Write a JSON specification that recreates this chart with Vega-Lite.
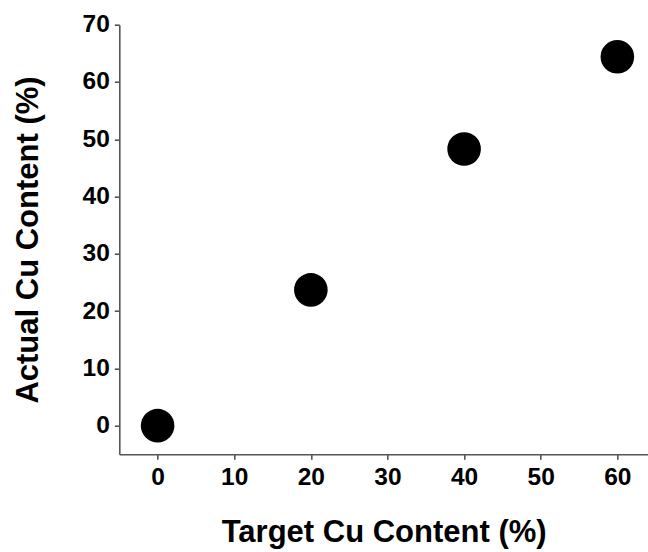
{
  "$schema": "https://vega.github.io/schema/vega-lite/v6.json",
  "width": 528.7,
  "height": 429.6,
  "autosize": "none",
  "padding": {"left": 119.3, "top": 24.7, "right": 0, "bottom": 97.7},
  "background": "white",
  "config": {
    "view": {"stroke": null},
    "font": "Liberation Sans",
    "axis": {
      "grid": false,
      "domainColor": "#555555",
      "domainWidth": 1.6,
      "tickColor": "#555555",
      "tickWidth": 1.6,
      "tickSize": 5,
      "labelFont": "Liberation Sans",
      "labelFontSize": 24.5,
      "labelFontWeight": "bold",
      "labelColor": "black",
      "titleFont": "Liberation Sans",
      "titleFontSize": 31,
      "titleFontWeight": "bold",
      "titleColor": "black"
    }
  },
  "data": {
    "values": [
      {"target": 0, "actual": 0},
      {"target": 20, "actual": 23.7},
      {"target": 40, "actual": 48.3},
      {"target": 60, "actual": 64.4}
    ]
  },
  "mark": {"type": "circle", "size": 1130, "color": "black", "opacity": 1},
  "encoding": {
    "x": {
      "field": "target",
      "type": "quantitative",
      "scale": {"domain": [-5, 64], "nice": false, "zero": false},
      "axis": {"values": [0, 10, 20, 30, 40, 50, 60], "title": "Target Cu Content (%)", "labelPadding": 6, "titlePadding": 29, "labelFlush": false}
    },
    "y": {
      "field": "actual",
      "type": "quantitative",
      "scale": {"domain": [-5, 70], "nice": false, "zero": false},
      "axis": {"values": [0, 10, 20, 30, 40, 50, 60, 70], "title": "Actual Cu Content (%)", "labelPadding": 5, "titlePadding": 38, "labelFlush": false}
    }
  }
}
